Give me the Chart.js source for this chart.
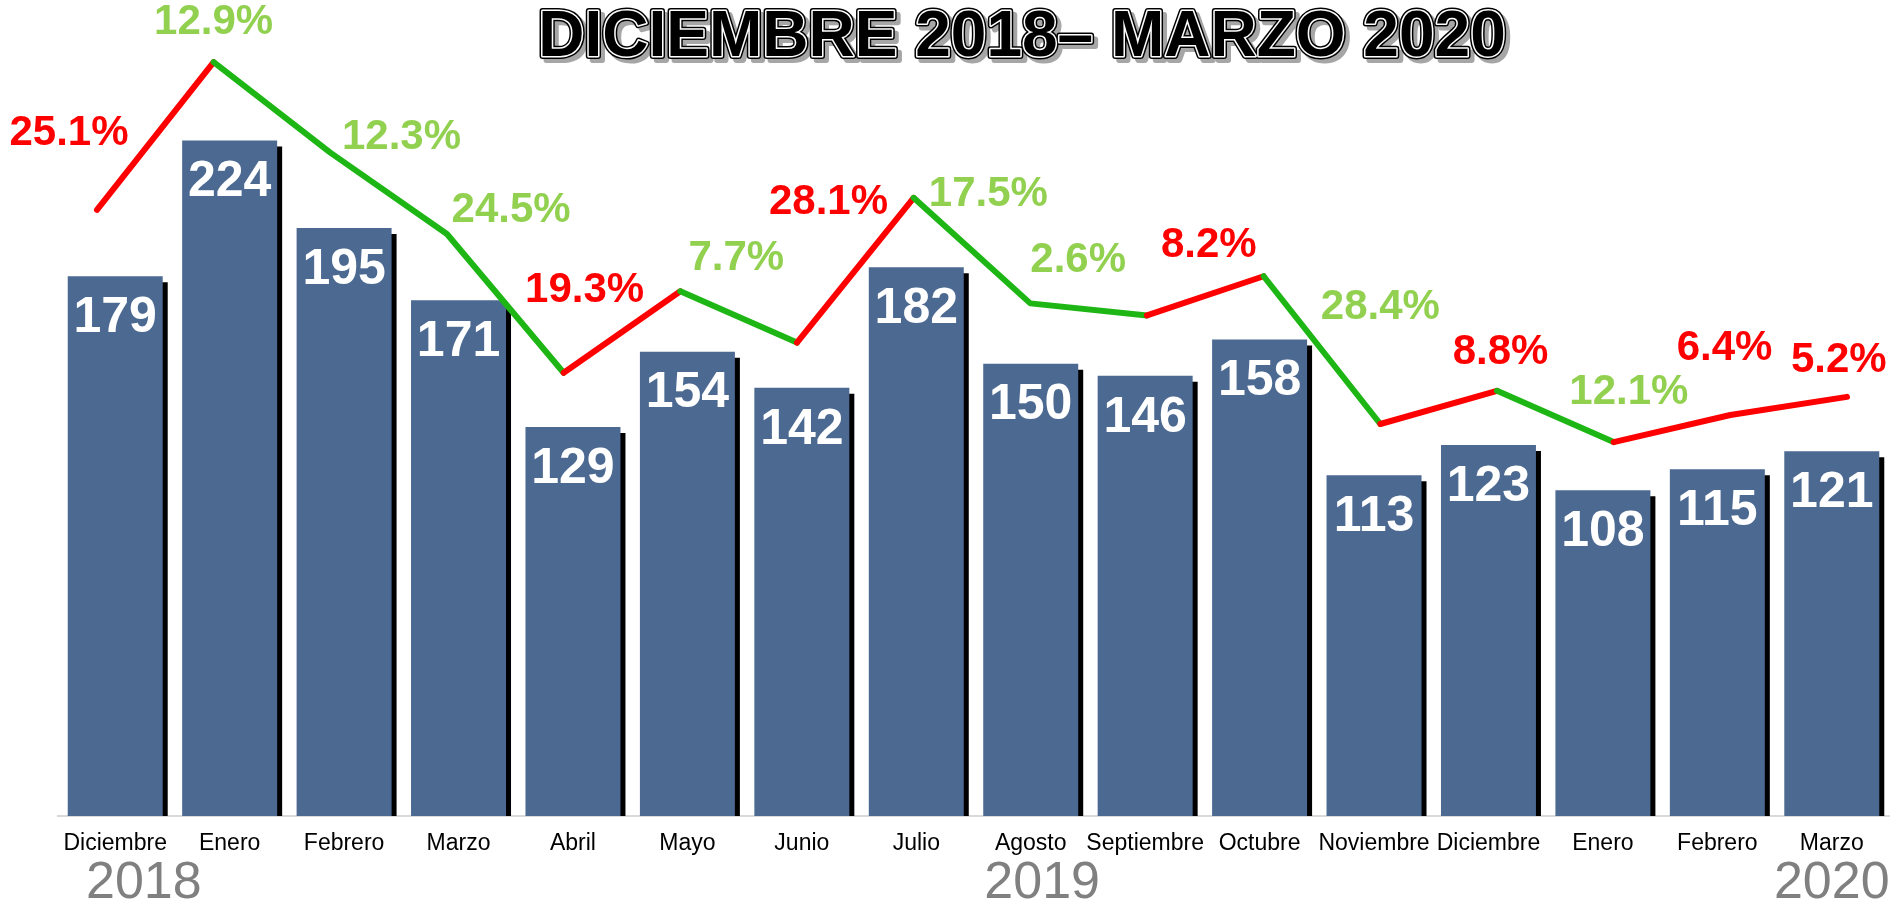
<!DOCTYPE html>
<html>
<head>
<meta charset="utf-8">
<script src="https://cdn.jsdelivr.net/npm/chart.js@4.4.1/dist/chart.umd.min.js"></script>
<style>
  html, body { margin: 0; padding: 0; background: #ffffff; }
  #wrap { width: 1897px; height: 909px; position: relative; }
</style>
</head>
<body>
<div id="wrap"><canvas id="c"></canvas></div>
<script>
// ---- data ----
const categories = ['Diciembre','Enero','Febrero','Marzo','Abril','Mayo','Junio','Julio','Agosto','Septiembre','Octubre','Noviembre','Diciembre','Enero','Febrero','Marzo'];
const barValues  = [179, 224, 195, 171, 129, 154, 142, 182, 150, 146, 158, 113, 123, 108, 115, 121];
const lineValues = [201, 250, 220, 193, 147, 174, 157, 205, 170, 166, 179, 130, 141, 124, 133, 139];
const pctChange  = [25.1, -12.9, -12.3, -24.5, 19.3, -7.7, 28.1, -17.5, -2.6, 8.2, -28.4, 8.8, -12.1, 6.4, 5.2];
const yearLabels = ['2018', '2019', '2020'];
const titleText  = 'DICIEMBRE 2018\u2013 MARZO 2020';

// ---- layout (label anchors in data space) ----
const pctAnchors = [[-0.24,226.5],[1.0,263.3],[2.61,225.1],[3.55,200.9],[4.18,174.4],[5.48,184.8],[6.27,203.6],[7.64,206.2],[8.41,184.4],[9.53,189.3],[11.0,168.8],[12.03,153.8],[13.13,140.4],[13.95,155.2],[14.93,151.2]];
const yearAnchors = [0.25, 8.1, 15];

const RED = '#ff0000', LGREEN = '#92d050', LINEGREEN = '#1db614', BAR = '#4b6991';
const FONT = '"Liberation Sans", Arial, sans-serif';

const shadowPlugin = {
  id: 'barShadow',
  beforeDatasetDraw(chart, args) {
    if (args.index !== 0) return;
    const ctx = chart.ctx;
    ctx.save();
    ctx.shadowColor = '#000000';
    ctx.shadowOffsetX = 5;
    ctx.shadowOffsetY = 6;
    ctx.shadowBlur = 0;
  },
  afterDatasetDraw(chart, args) {
    if (args.index !== 0) return;
    chart.ctx.restore();
  }
};

const textPlugin = {
  id: 'texts',
  afterDatasetsDraw(chart) {
    const ctx = chart.ctx;
    const meta = chart.getDatasetMeta(0);
    const xl = chart.scales.xl, y = chart.scales.y, x = chart.scales.x;
    ctx.save();
    ctx.shadowColor = 'transparent';
    // bar value labels
    ctx.font = 'bold 50px ' + FONT;
    ctx.fillStyle = '#ffffff';
    ctx.textAlign = 'center';
    ctx.textBaseline = 'middle';
    meta.data.forEach((bar, i) => {
      ctx.fillText(String(barValues[i]), bar.x, bar.y + 42);
    });
    // percentage change labels
    ctx.font = 'bold 42px ' + FONT;
    pctChange.forEach((p, i) => {
      const a = pctAnchors[i];
      ctx.fillStyle = p >= 0 ? RED : LGREEN;
      ctx.fillText(Math.abs(p).toFixed(1) + '%', xl.getPixelForValue(a[0]), y.getPixelForValue(a[1]));
    });
    // year labels
    ctx.font = '52px ' + FONT;
    ctx.fillStyle = '#808080';
    const step = x.getPixelForValue(1) - x.getPixelForValue(0);
    yearLabels.forEach((t, i) => {
      const px = x.getPixelForValue(0) + yearAnchors[i] * step;
      ctx.fillText(t, px, 884);
    });
    // title
    ctx.font = 'bold 64px ' + FONT;
    ctx.lineJoin = 'round';
    const tx = 1022, ty = 38;
    ctx.fillStyle = '#a6a6a6';
    ctx.strokeStyle = '#a6a6a6';
    ctx.lineWidth = 6;
    ctx.strokeText(titleText, tx + 4, ty + 4);
    ctx.fillText(titleText, tx + 4, ty + 4);
    ctx.strokeStyle = '#000000';
    ctx.lineWidth = 6;
    ctx.strokeText(titleText, tx, ty);
    ctx.strokeStyle = '#ffffff';
    ctx.lineWidth = 3;
    ctx.strokeText(titleText, tx, ty);
    ctx.fillStyle = '#000000';
    ctx.fillText(titleText, tx, ty);
    ctx.restore();
  }
};

new Chart(document.getElementById('c'), {
  type: 'bar',
  data: {
    labels: categories,
    datasets: [
      {
        type: 'bar',
        data: barValues,
        backgroundColor: BAR,
        borderWidth: 0,
        categoryPercentage: 1.0,
        barPercentage: 0.83,
        grouped: false,
        xAxisID: 'x',
        yAxisID: 'y',
        order: 2,
        clip: 0
      },
      {
        type: 'line',
        data: lineValues.map((v, i) => ({ x: i, y: v })),
        xAxisID: 'xl',
        yAxisID: 'y',
        borderWidth: 6,
        borderColor: RED,
        borderCapStyle: 'round',
        borderJoinStyle: 'round',
        pointRadius: 0,
        tension: 0,
        fill: false,
        order: 1,
        clip: false,
        segment: {
          borderColor: ctx => (ctx.p1.parsed.y > ctx.p0.parsed.y ? RED : LINEGREEN)
        }
      }
    ]
  },
  options: {
    responsive: true,
    maintainAspectRatio: false,
    animation: false,
    events: [],
    layout: { padding: { left: 58, right: 8, top: 32, bottom: 33 } },
    plugins: { legend: { display: false }, tooltip: { enabled: false }, title: { display: false } },
    scales: {
      x: {
        type: 'category',
        offset: true,
        grid: { display: false, drawTicks: false },
        border: { display: true, color: '#d9d9d9', width: 2 },
        ticks: { color: '#000000', font: { family: FONT, size: 23 }, padding: 14, autoSkip: false, maxRotation: 0 },
        afterFit: s => { s.height = 60; }
      },
      xl: { type: 'linear', display: false, offset: false, grid: { offset: false }, bounds: 'data', min: -0.334, max: 15.36 },
      y: { display: false, min: 0, max: 260 }
    }
  },
  plugins: [shadowPlugin, textPlugin]
});
</script>
</body>
</html>
